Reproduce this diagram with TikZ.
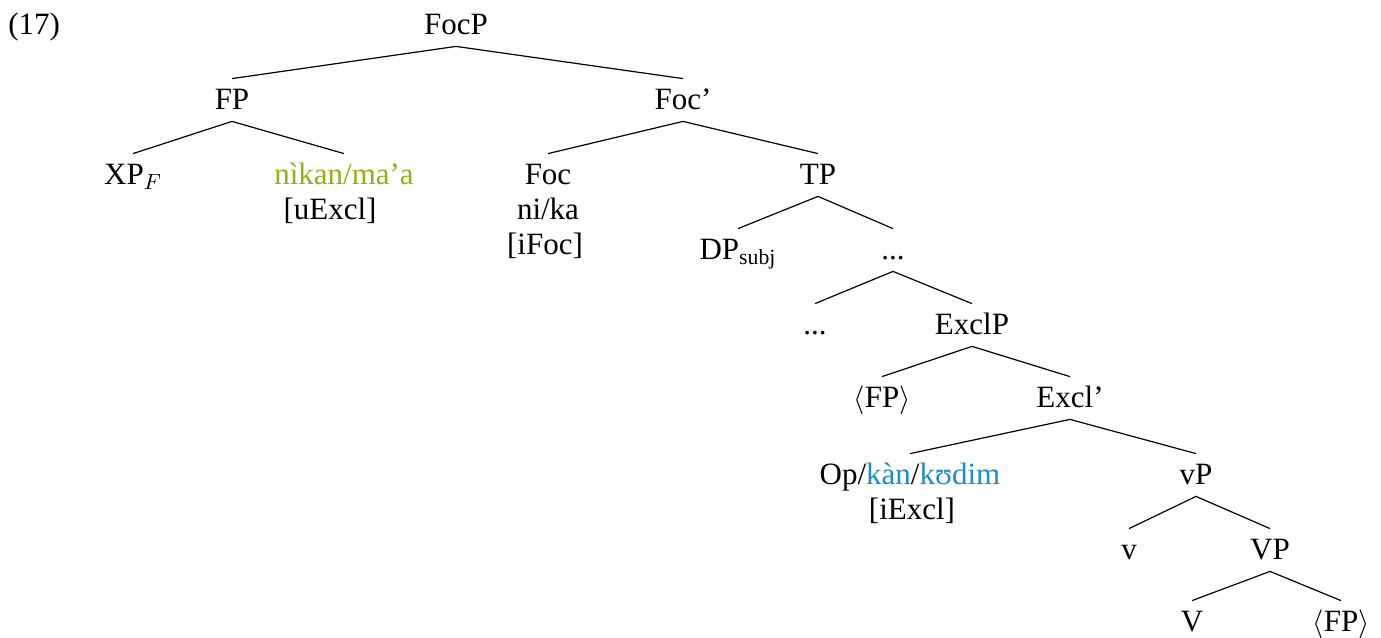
\documentclass[tikz,border=0pt]{standalone}
\usepackage{fontspec}
\setmainfont{Liberation Serif}
\definecolor{lexgreen}{RGB}{140,180,20}
\definecolor{lexblue}{RGB}{30,140,200}
\begin{document}
\begin{tikzpicture}[x=0.5pt,y=-0.5pt,
  font=\fontsize{15.5}{18}\selectfont,
  lbl/.style={anchor=base,inner xsep=1pt,inner ysep=2pt,text height=13pt,text depth=4pt},
  extra/.style={anchor=base,inner sep=0pt},
  branch/.style={line width=0.6pt}]
\useasboundingbox (0,0) rectangle (1381,637);

% example number
\node[anchor=base west,inner sep=0pt] (exnum) at (8,34) {(17)};

% tree nodes (placed on their baselines)
\node[lbl] (focp)    at (456,34)  {FocP};
\node[lbl] (fp)      at (232,109) {FP};
\node[lbl] (focbar)  at (683,109) {Foc’};
\node[lbl] (xpf)     at (133,184) {XP$_{F}$};
\node[lbl,text=lexgreen] (nikan) at (344,184) {nìkan/ma’a};
\node[extra] (uexcl) at (330,219) {[uExcl]};
\node[lbl] (foc)     at (548,184) {Foc};
\node[extra] (nika)  at (548,219) {ni/ka};
\node[extra] (ifoc)  at (545,254) {[iFoc]};
\node[lbl] (tp)      at (818,184) {TP};
\node[lbl] (dpsubj)  at (738,259) {DP\textsubscript{subj}};
\node[lbl] (dotsa)   at (893,259) {...};
\node[lbl] (dotsb)   at (815,334) {...};
\node[lbl] (exclp)   at (972,334) {ExclP};
\node[lbl] (fpa)     at (882,407) {$\langle$FP$\rangle$};
\node[lbl] (exclbar) at (1070,407) {Excl’};
\node[lbl] (op)      at (910,484) {Op/\textcolor{lexblue}{kàn}/\textcolor{lexblue}{kʊdim}};
\node[extra] (iexcl) at (912,519) {[iExcl]};
\node[lbl] (vp)      at (1196,484) {vP};
\node[lbl] (v)       at (1129,559) {v};
\node[lbl] (vpp)     at (1270,559) {VP};
\node[lbl] (vhead)   at (1192,631) {V};
\node[lbl] (fpb)     at (1341,631) {$\langle$FP$\rangle$};

% branches
\draw[branch] (fp.north) -- (focp.south) -- (focbar.north);
\draw[branch] (xpf.north) -- (fp.south) -- (nikan.north);
\draw[branch] (foc.north) -- (focbar.south) -- (tp.north);
\draw[branch] (dpsubj.north) -- (tp.south) -- (dotsa.north);
\draw[branch] (dotsb.north) -- (dotsa.south) -- (exclp.north);
\draw[branch] (fpa.north) -- (exclp.south) -- (exclbar.north);
\draw[branch] (op.north) -- (exclbar.south) -- (vp.north);
\draw[branch] (v.north) -- (vp.south) -- (vpp.north);
\draw[branch] (vhead.north) -- (vpp.south) -- (fpb.north);
\end{tikzpicture}
\end{document}
